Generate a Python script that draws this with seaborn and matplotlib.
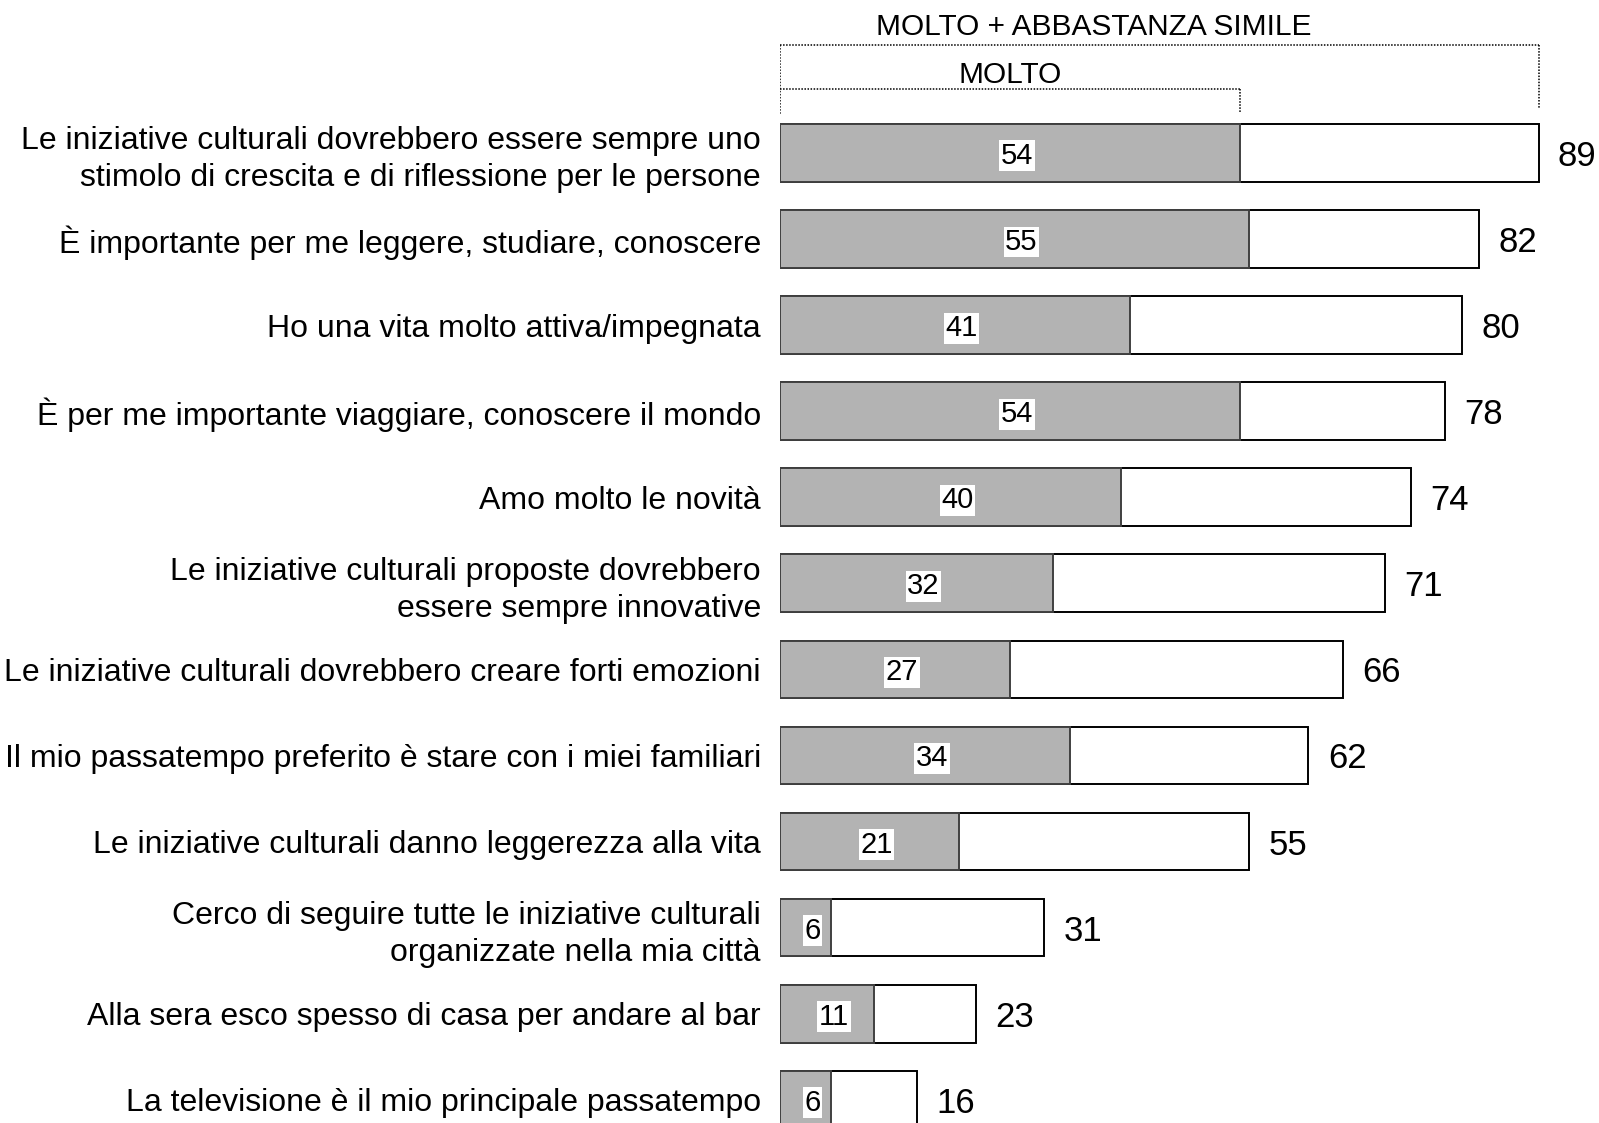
import matplotlib
matplotlib.use("Agg")
import matplotlib.pyplot as plt
import seaborn as sns
import pandas as pd

categories = [
    "Le iniziative culturali dovrebbero essere sempre uno\nstimolo di crescita e di riflessione per le persone",
    "È importante per me leggere, studiare, conoscere",
    "Ho una vita molto attiva/impegnata",
    "È per me importante viaggiare, conoscere il mondo",
    "Amo molto le novità",
    "Le iniziative culturali proposte dovrebbero\nessere sempre innovative",
    "Le iniziative culturali dovrebbero creare forti emozioni",
    "Il mio passatempo preferito è stare con i miei familiari",
    "Le iniziative culturali danno leggerezza alla vita",
    "Cerco di seguire tutte le iniziative culturali\norganizzate nella mia città",
    "Alla sera esco spesso di casa per andare al bar",
    "La televisione è il mio principale passatempo",
]
molto = [54, 55, 41, 54, 40, 32, 27, 34, 21, 6, 11, 6]
molto_abbastanza = [89, 82, 80, 78, 74, 71, 66, 62, 55, 31, 23, 16]

df = pd.DataFrame({"voce": categories, "molto": molto, "totale": molto_abbastanza})

sns.set_theme(style="white")
plt.rcParams["font.family"] = ["Liberation Sans", "DejaVu Sans"]
plt.rcParams["text.color"] = "black"
plt.rcParams["ytick.color"] = "black"

fig = plt.figure(figsize=(15.99, 11.23), dpi=100)
ax = fig.add_axes([0.488, 0.0, 0.512, 1.0])

bar_w = 0.67
sns.barplot(data=df, y="voce", x="totale", orient="h", color="white",
            edgecolor="black", linewidth=1.4, width=bar_w, saturation=1, ax=ax)
sns.barplot(data=df, y="voce", x="molto", orient="h", color="#b3b3b3",
            edgecolor="#404040", linewidth=1.4, width=bar_w, saturation=1, ax=ax)

ax.set_xlim(0, 96.1)
ax.set_ylim(11.27, -1.777)
ax.set_xlabel("")
ax.set_ylabel("")
ax.set_xticks([])
for s in ax.spines.values():
    s.set_visible(False)
ax.tick_params(axis="y", length=0, pad=14, labelsize=23, labelcolor="black")
for lbl in ax.get_yticklabels():
    lbl.set_linespacing(1.3)

for i, (m, t) in enumerate(zip(molto, molto_abbastanza)):
    ax.annotate(str(t), xy=(t, i), xytext=(14, 0), textcoords="offset points",
                ha="left", va="center_baseline", fontsize=25, color="black")
    ax.text(m / 2 + 0.8, i, str(m), ha="center", va="center_baseline", fontsize=21,
            color="black",
            bbox=dict(boxstyle="square,pad=0.05", facecolor="white", edgecolor="none"))

# brackets over the first row
dot = dict(color="black", linestyle=(0, (1, 1)), linewidth=1.1)
top_outer, top_inner = -1.257, -0.745
ax.plot([0, 0], [top_outer, -0.443], **dot)
ax.plot([0, molto_abbastanza[0]], [top_outer, top_outer], **dot)
ax.plot([molto_abbastanza[0], molto_abbastanza[0]], [top_outer, -0.524], **dot)
ax.plot([0, molto[0]], [top_inner, top_inner], **dot)
ax.plot([molto[0], molto[0]], [top_inner, -0.466], **dot)
ax.text(36.8, -1.466, "MOLTO + ABBASTANZA SIMILE", ha="center", va="center",
        fontsize=21.5, color="black")
ax.text(molto[0] / 2, -0.908, "MOLTO", ha="center", va="center", fontsize=21.5, color="black")

fig.savefig("out.png", dpi=100)
